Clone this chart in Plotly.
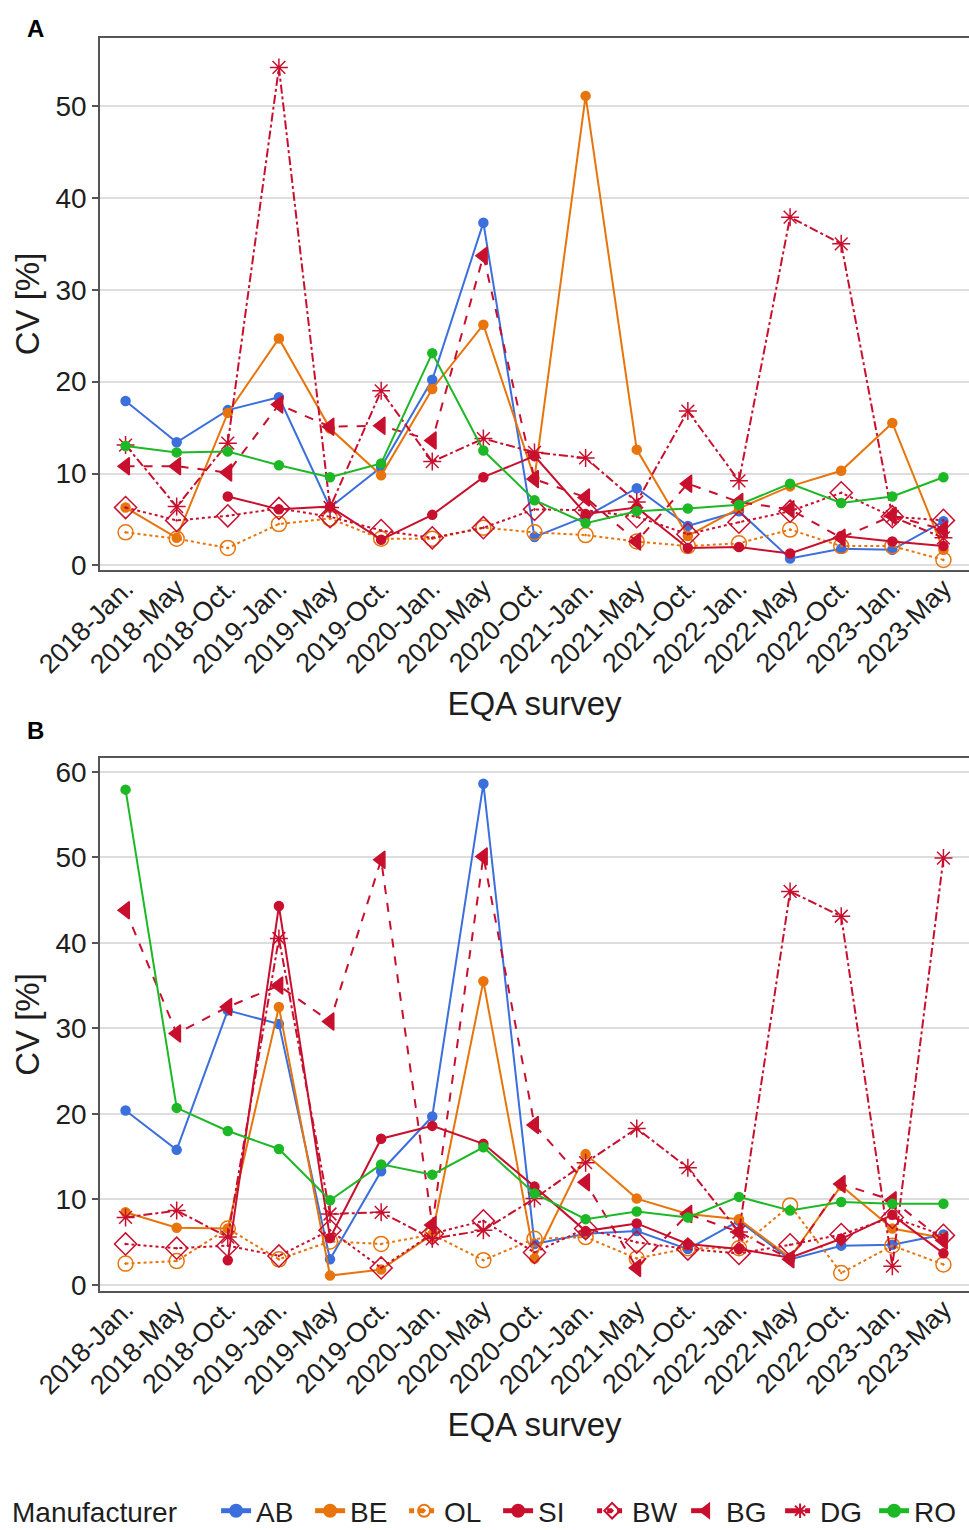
import plotly.graph_objects as go

surveys = ["2018-Jan.", "2018-May", "2018-Oct.", "2019-Jan.", "2019-May", "2019-Oct.",
           "2020-Jan.", "2020-May", "2020-Oct.", "2021-Jan.", "2021-May", "2021-Oct.",
           "2022-Jan.", "2022-May", "2022-Oct.", "2023-Jan.", "2023-May"]

# Panel A values (CV %)
A_AB = [17.9, 13.4, 16.9, 18.3, 6.3, 10.7, 20.2, 37.3, 3.1, 5.3, 8.4, 4.3, 5.9, 0.75, 1.8, 1.7, 4.8]
A_BE = [6.3, 3.0, 16.6, 24.7, 14.9, 9.8, 19.2, 26.2, 9.5, 51.1, 12.6, 3.2, 6.2, 8.6, 10.3, 15.5, 1.7]
A_OL = [3.6, 2.9, 1.9, 4.5, 5.1, 2.9, 2.9, 4.1, 3.6, 3.3, 2.6, 2.1, 2.4, 3.9, 2.1, 2.1, 0.6]
A_SI = [None, None, 7.5, 6.1, 6.4, 2.8, 5.5, 9.6, 11.9, 5.6, 6.3, 1.9, 2.0, 1.3, 3.2, 2.6, 2.1]
A_BW = [6.3, 4.9, 5.4, 6.2, 5.3, 3.8, 3.0, 4.1, 6.1, 6.0, 5.3, 3.4, 4.7, 5.9, 7.9, 5.3, 4.9]
A_BG = [10.8, 10.8, 10.1, 17.5, 15.1, 15.2, 13.6, 33.7, 9.4, 7.4, 2.6, 8.9, 6.9, 6.1, 3.0, 5.4, 3.9]
A_DG = [13.1, 6.4, 13.3, 54.2, 6.3, 19.0, 11.3, 13.8, 12.3, 11.7, 6.9, 16.8, 9.2, 37.9, 35.0, 5.3, 3.0]
A_RO = [13.0, 12.3, 12.4, 10.9, 9.6, 11.1, 23.1, 12.5, 7.1, 4.6, 5.9, 6.2, 6.6, 8.9, 6.8, 7.5, 9.6]

# Panel B values (CV %)
B_AB = [20.4, 15.8, 32.1, 30.5, 3.0, 13.3, 19.7, 58.6, 4.8, 6.0, 6.3, 4.2, 7.5, 3.0, 4.6, 4.7, 5.9]
B_BE = [8.5, 6.7, 6.6, 32.5, 1.1, 1.8, 5.9, 35.5, 3.1, 15.3, 10.1, 8.3, 7.7, 3.2, 11.6, 6.6, 5.5]
B_OL = [2.5, 2.8, 6.6, 3.0, 5.1, 4.8, 5.9, 2.9, 5.4, 5.6, 3.1, 4.3, 4.3, 9.3, 1.4, 4.6, 2.4]
B_SI = [None, None, 2.9, 44.3, 5.5, 17.1, 18.6, 16.5, 11.5, 6.3, 7.2, 4.8, 4.2, 3.2, 5.4, 8.2, 3.7]
B_BW = [4.8, 4.3, 4.6, 3.4, 6.4, 2.0, 6.0, 7.5, 3.8, 6.6, 5.0, 4.2, 3.7, 4.7, 5.9, 7.9, 5.8]
B_BG = [43.8, 29.4, 32.5, 35.0, 30.8, 49.7, 7.0, 50.1, 18.7, 12.0, 2.0, 8.3, 6.2, 3.0, 11.8, 9.9, 5.2]
B_DG = [7.9, 8.7, 5.6, 40.5, 8.3, 8.5, 5.4, 6.4, 10.1, 14.3, 18.3, 13.7, 6.2, 46.0, 43.1, 2.2, 49.9]
B_RO = [57.9, 20.7, 18.0, 15.9, 9.9, 14.1, 12.9, 16.1, 10.7, 7.7, 8.6, 7.9, 10.3, 8.7, 9.7, 9.5, 9.5]

manufacturers = ["AB", "BE", "OL", "SI", "BW", "BG", "DG", "RO"]
panelA = [A_AB, A_BE, A_OL, A_SI, A_BW, A_BG, A_DG, A_RO]
panelB = [B_AB, B_BE, B_OL, B_SI, B_BW, B_BG, B_DG, B_RO]

BLUE = "#3B6FDC"
ORANGE = "#E8740C"
RED = "#C8102E"
GREEN = "#1DB825"

styles = {
    "AB": dict(color=BLUE, dash="solid", symbol="circle", size=9),
    "BE": dict(color=ORANGE, dash="solid", symbol="circle", size=9),
    "OL": dict(color=ORANGE, dash="dot", symbol="circle-open-dot", size=15),
    "SI": dict(color=RED, dash="solid", symbol="circle", size=9),
    "BW": dict(color=RED, dash="dot", symbol="diamond-open-dot", size=17),
    "BG": dict(color=RED, dash="dash", symbol="triangle-left", size=15),
    "DG": dict(color=RED, dash="dashdot", symbol="asterisk-open", size=15),
    "RO": dict(color=GREEN, dash="solid", symbol="circle", size=9),
}

fig = go.Figure()
for panel, (xa, ya, show) in zip([panelA, panelB], [("x", "y", True), ("x2", "y2", False)]):
    for name, vals in zip(manufacturers, panel):
        st = styles[name]
        fig.add_trace(go.Scatter(
            x=surveys, y=vals, name=name, mode="lines+markers",
            xaxis=xa, yaxis=ya, showlegend=show, legendgroup=name,
            line=dict(color=st["color"], dash=st["dash"], width=2),
            marker=dict(symbol=st["symbol"], size=st["size"], color=st["color"],
                        line=dict(color=st["color"], width=1.5)),
            connectgaps=False,
        ))

FONT = "Arial, Liberation Sans, sans-serif"
W = 969.0
H = 1530.0
TXT = "#1e1e1e"

def ydom(top, bottom):
    return [1 - bottom / H, 1 - top / H]

xcommon = dict(
    type="category", range=[-0.5, 16.5], mirror=True,
    showline=True, linecolor="#555555", linewidth=1.5,
    ticks="", showgrid=False, tickangle=-45, ticklabelstandoff=-10,
    tickfont=dict(family=FONT, size=27, color=TXT),
    title=dict(text="EQA survey", font=dict(family=FONT, size=33, color=TXT), standoff=14),
)
ycommon = dict(
    showline=True, linecolor="#555555", linewidth=1.5,
    ticks="outside", ticklen=6, tickcolor="#555555", tickwidth=1.5,
    tickfont=dict(family=FONT, size=28, color=TXT),
    showgrid=True, gridcolor="#DDDDDD", gridwidth=1.5,
    zeroline=False, dtick=10,
    title=dict(text="CV [%]", font=dict(family=FONT, size=33, color=TXT), standoff=6),
)

xdom = [100 / W, 1]

fig.update_layout(
    width=969, height=1530,
    margin=dict(l=0, r=0, t=0, b=0, autoexpand=False),
    paper_bgcolor="white", plot_bgcolor="white",
    font=dict(family=FONT, color=TXT),
    xaxis=dict(xcommon, domain=xdom, anchor="y"),
    yaxis=dict(ycommon, domain=ydom(38, 570), range=[-0.5, 57.4], anchor="x"),
    xaxis2=dict(xcommon, domain=xdom, anchor="y2"),
    yaxis2=dict(ycommon, domain=ydom(758, 1291), range=[-0.7, 61.6], anchor="x2"),
    legend=dict(
        orientation="h", x=10 / W, xanchor="left", y=(H - 1511) / H, yanchor="middle",
        title=dict(text="Manufacturer\u00a0\u00a0\u00a0\u00a0", font=dict(family=FONT, size=28, color=TXT), side="left"),
        font=dict(family=FONT, size=28, color=TXT),
        itemsizing="constant", entrywidth=49, entrywidthmode="pixels",
        tracegroupgap=0, bgcolor="rgba(0,0,0,0)",
    ),
    annotations=[
        dict(text="<b>A</b>", x=35 / W, y=1 - 28 / H, xref="paper", yref="paper", showarrow=False,
             xanchor="center", yanchor="middle", font=dict(family=FONT, size=24, color="black")),
        dict(text="<b>B</b>", x=35 / W, y=1 - 730 / H, xref="paper", yref="paper", showarrow=False,
             xanchor="center", yanchor="middle", font=dict(family=FONT, size=24, color="black")),
    ],
)

fig.write_html(
    "out.html",
    config={"displayModeBar": False},
    post_script="document.body.style.margin='0';document.body.style.padding='0';document.body.style.overflow='hidden';",
)
